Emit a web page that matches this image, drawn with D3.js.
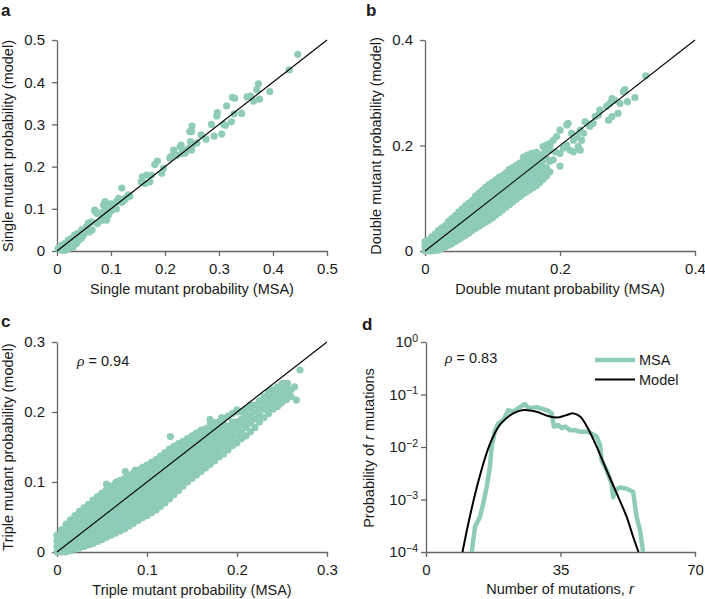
<!DOCTYPE html>
<html><head><meta charset="utf-8">
<script src="https://cdn.jsdelivr.net/npm/d3@7"></script>
<style>
body{margin:0;background:#fff}
svg{display:block}
text{font-family:"Liberation Sans",Arial,Helvetica,sans-serif;fill:#1a1a1a}
</style>
</head><body>
<svg id="fig" width="705" height="599"></svg>
<script>
// ---------------- DATA ----------------
// Panel a: single mutant probabilities [MSA, model]
const singlePoints = [
[0.4457,0.466],[0.430,0.429],[0.394,0.378],[0.373,0.396],[0.370,0.382],[0.359,0.367],[0.364,0.355],[0.375,0.360],[0.352,0.365],[0.342,0.326],
[0.325,0.364],[0.329,0.362],[0.314,0.344],[0.328,0.325],[0.296,0.320],[0.297,0.328],[0.323,0.306],[0.309,0.300],[0.312,0.298],[0.286,0.300],
[0.305,0.277],[0.291,0.272],[0.276,0.265],[0.267,0.275],[0.250,0.296],[0.249,0.283],[0.251,0.251],[0.249,0.239],[0.259,0.256],[0.246,0.283],
[0.230,0.251],[0.233,0.239],[0.222,0.227],[0.215,0.227],[0.237,0.232],[0.209,0.220],[0.186,0.213],[0.181,0.205],[0.197,0.196],[0.194,0.184],
[0.175,0.180],[0.166,0.180],[0.158,0.176],[0.156,0.164],[0.163,0.160],[0.172,0.164],[0.216,0.239],[0.228,0.247],[0.231,0.231],[0.238,0.235],
[0.244,0.243],[0.247,0.259],[0.210,0.223],[0.120,0.149],[0.126,0.125],[0.114,0.125],[0.132,0.133],[0.110,0.117],[0.104,0.109],[0.107,0.101],
[0.089,0.117],[0.086,0.109],[0.092,0.101],[0.070,0.097],[0.0735,0.089],[0.083,0.085],[0.089,0.081],[0.092,0.073],[0.083,0.073],[0.064,0.069],
[0.058,0.066],[0.055,0.058],[0.061,0.050],[0.046,0.050],[0.039,0.042],[0.033,0.038],[0.027,0.030],[0.021,0.026],[0.015,0.018],[0.009,0.014],
[0.002,0.006],[0.033,0.026],[0.039,0.030],[0.049,0.038],[0.027,0.018],[0.021,0.010],[0.015,0.006],[0.009,0.002],[0.036,0.018],[0.030,0.010],
[0.070,0.095],[0.080,0.090],[0.085,0.075],[0.075,0.065],[0.065,0.050],[0.060,0.045],[0.055,0.055],[0.050,0.040],[0.045,0.030],[0.040,0.025],
[0.035,0.020],[0.030,0.012],[0.025,0.010],[0.020,0.005],[0.015,0.002],[0.010,0.003],[0.005,0.008],[0.012,0.010],[0.100,0.095],[0.095,0.085],
[0.110,0.100],[0.120,0.115],[0.125,0.120],[0.130,0.128],[0.135,0.130],[0.100,0.112],[0.092,0.105],[0.088,0.095]
];

// Panel b: double mutant probabilities, dense part read column by column [MSA, [model values]]
const doubleColumns = [
[0.000,[0.000,0.009,0.018]],
[0.005,[0.000,0.010,0.020]],
[0.010,[0.000,0.009,0.018,0.027]],
[0.015,[0.001,0.011,0.021,0.032]],
[0.020,[0.002,0.012,0.022,0.031,0.039]],
[0.025,[0.005,0.015,0.025,0.035,0.044]],
[0.030,[0.008,0.018,0.028,0.038,0.048]],
[0.035,[0.011,0.021,0.031,0.041,0.050,0.056]],
[0.040,[0.014,0.024,0.034,0.044,0.054,0.062]],
[0.045,[0.018,0.027,0.037,0.047,0.057,0.067]],
[0.050,[0.022,0.030,0.040,0.050,0.060,0.070,0.074]],
[0.055,[0.026,0.034,0.044,0.054,0.064,0.074,0.080]],
[0.060,[0.030,0.038,0.048,0.058,0.068,0.078,0.086]],
[0.065,[0.034,0.042,0.052,0.062,0.072,0.082,0.091]],
[0.070,[0.039,0.046,0.056,0.066,0.076,0.086,0.096]],
[0.075,[0.043,0.050,0.060,0.070,0.080,0.090,0.100,0.104]],
[0.080,[0.047,0.054,0.064,0.074,0.084,0.094,0.104,0.110]],
[0.085,[0.051,0.058,0.068,0.078,0.088,0.098,0.108,0.115]],
[0.090,[0.055,0.062,0.072,0.082,0.092,0.102,0.112,0.121]],
[0.095,[0.059,0.066,0.076,0.086,0.096,0.106,0.116,0.126]],
[0.100,[0.063,0.070,0.080,0.090,0.100,0.110,0.120,0.130]],
[0.105,[0.068,0.075,0.085,0.095,0.105,0.115,0.125,0.135]],
[0.110,[0.073,0.080,0.090,0.100,0.110,0.120,0.130,0.140]],
[0.115,[0.078,0.085,0.095,0.105,0.115,0.125,0.135,0.143]],
[0.120,[0.083,0.090,0.100,0.110,0.120,0.130,0.140,0.148]],
[0.125,[0.088,0.096,0.106,0.116,0.126,0.136,0.146,0.155]],
[0.130,[0.093,0.100,0.110,0.120,0.130,0.140,0.150,0.158]],
[0.135,[0.098,0.105,0.115,0.125,0.135,0.145,0.155,0.162]],
[0.140,[0.103,0.110,0.120,0.130,0.140,0.150,0.160,0.166]],
[0.145,[0.108,0.114,0.124,0.134,0.144,0.154,0.164,0.170]],
[0.150,[0.112,0.118,0.128,0.138,0.148,0.158,0.168,0.174]],
[0.155,[0.116,0.122,0.132,0.142,0.152,0.162,0.172,0.178]],
[0.160,[0.120,0.127,0.137,0.147,0.157,0.167,0.176]],
[0.165,[0.124,0.132,0.142,0.152,0.162,0.172,0.180]],
[0.170,[0.130,0.140,0.150,0.160,0.170,0.180]],
[0.175,[0.136,0.148,0.160,0.172,0.184]],
[0.180,[0.142,0.158,0.175,0.190]],
[0.185,[0.150,0.170,0.190,0.200]]
];
// Panel b: sparse points at the upper end
const doubleSparse = [
[0.327,0.332],[0.311,0.291],[0.296,0.306],[0.294,0.302],[0.300,0.283],[0.289,0.280],[0.281,0.286],[0.277,0.289],[0.274,0.280],[0.269,0.274],
[0.286,0.261],[0.277,0.255],[0.272,0.248],[0.259,0.267],[0.257,0.258],[0.252,0.255],[0.249,0.242],[0.240,0.242],[0.237,0.245],[0.244,0.236],
[0.212,0.242],[0.210,0.239],[0.230,0.229],[0.235,0.223],[0.225,0.217],[0.232,0.210],[0.220,0.210],[0.227,0.198],[0.230,0.191],[0.220,0.188],
[0.215,0.191],[0.210,0.201],[0.217,0.223],[0.200,0.229],[0.195,0.217],[0.190,0.210],[0.185,0.204],[0.180,0.201],[0.175,0.198],[0.190,0.173],
[0.200,0.161],[0.173,0.154],[0.205,0.195],[0.200,0.185],[0.193,0.188],[0.146,0.178],[0.152,0.182],[0.158,0.185],[0.165,0.187]
];

// Panel c: triple mutant probabilities, dense part column by column [MSA, [model values]]
const tripleColumns = [
[0.000,[0.000,0.008,0.016,0.024]],
[0.005,[0.000,0.008,0.016,0.024,0.032]],
[0.010,[0.000,0.008,0.016,0.024,0.032,0.040]],
[0.015,[0.002,0.010,0.018,0.026,0.034,0.042,0.046]],
[0.020,[0.004,0.012,0.020,0.028,0.036,0.044,0.052]],
[0.025,[0.006,0.014,0.022,0.030,0.038,0.046,0.054,0.058]],
[0.030,[0.008,0.016,0.024,0.032,0.040,0.048,0.056,0.063]],
[0.035,[0.010,0.018,0.026,0.034,0.042,0.050,0.058,0.066,0.068]],
[0.040,[0.012,0.020,0.028,0.036,0.044,0.052,0.060,0.068,0.074]],
[0.045,[0.015,0.023,0.031,0.039,0.047,0.055,0.063,0.071,0.079]],
[0.050,[0.018,0.026,0.034,0.042,0.050,0.058,0.066,0.074,0.082,0.084]],
[0.055,[0.021,0.029,0.037,0.045,0.053,0.061,0.069,0.077,0.085,0.089]],
[0.060,[0.024,0.032,0.040,0.048,0.056,0.064,0.072,0.080,0.088,0.094]],
[0.065,[0.027,0.035,0.043,0.051,0.059,0.067,0.075,0.083,0.091,0.098]],
[0.070,[0.030,0.038,0.046,0.054,0.062,0.070,0.078,0.086,0.094,0.102]],
[0.075,[0.033,0.041,0.049,0.057,0.065,0.073,0.081,0.089,0.097,0.105]],
[0.080,[0.037,0.045,0.053,0.061,0.069,0.077,0.085,0.093,0.101,0.109]],
[0.085,[0.041,0.049,0.057,0.065,0.073,0.081,0.089,0.097,0.105,0.113]],
[0.090,[0.045,0.053,0.061,0.069,0.077,0.085,0.093,0.101,0.109,0.117]],
[0.095,[0.049,0.057,0.065,0.073,0.081,0.089,0.097,0.105,0.113,0.121]],
[0.100,[0.052,0.060,0.068,0.076,0.084,0.092,0.100,0.108,0.116,0.124]],
[0.105,[0.056,0.064,0.072,0.080,0.088,0.096,0.104,0.112,0.120,0.128]],
[0.110,[0.060,0.068,0.076,0.084,0.092,0.100,0.108,0.116,0.124,0.132]],
[0.115,[0.065,0.073,0.081,0.089,0.097,0.105,0.113,0.121,0.129,0.137]],
[0.120,[0.070,0.078,0.086,0.094,0.102,0.110,0.118,0.126,0.134,0.142]],
[0.125,[0.076,0.084,0.092,0.100,0.108,0.116,0.124,0.132,0.140,0.147]],
[0.130,[0.082,0.090,0.098,0.106,0.114,0.122,0.130,0.138,0.146,0.151]],
[0.135,[0.088,0.096,0.104,0.112,0.120,0.128,0.136,0.144,0.152,0.155]],
[0.140,[0.094,0.102,0.110,0.118,0.126,0.134,0.142,0.150,0.158]],
[0.145,[0.100,0.108,0.116,0.124,0.132,0.140,0.148,0.156,0.162]],
[0.150,[0.105,0.113,0.121,0.129,0.137,0.145,0.153,0.161,0.166]],
[0.155,[0.110,0.118,0.126,0.134,0.142,0.150,0.158,0.166,0.170]],
[0.160,[0.115,0.123,0.131,0.139,0.147,0.155,0.163,0.171,0.174]],
[0.165,[0.120,0.128,0.136,0.144,0.152,0.160,0.168,0.176]],
[0.170,[0.125,0.133,0.141,0.149,0.157,0.165,0.173,0.181]],
[0.175,[0.130,0.138,0.146,0.154,0.162,0.170,0.178,0.185]],
[0.180,[0.136,0.144,0.152,0.160,0.168,0.176,0.186]],
[0.185,[0.140,0.150,0.158,0.166,0.174,0.182,0.190]],
[0.190,[0.146,0.156,0.164,0.172,0.180,0.194]],
[0.195,[0.152,0.162,0.170,0.178,0.186,0.198]],
[0.200,[0.156,0.166,0.176,0.186,0.200]],
[0.205,[0.162,0.172,0.182,0.190,0.200]],
[0.210,[0.166,0.178,0.188,0.196,0.205]],
[0.215,[0.172,0.184,0.194,0.204,0.210]],
[0.220,[0.178,0.190,0.200,0.210]],
[0.225,[0.186,0.196,0.206,0.216]],
[0.230,[0.192,0.204,0.214,0.222]],
[0.235,[0.198,0.208,0.218,0.228]],
[0.240,[0.204,0.214,0.224,0.232]],
[0.245,[0.208,0.218,0.228,0.236]],
[0.250,[0.214,0.224,0.234,0.240]],
[0.255,[0.218,0.228,0.238]],
[0.260,[0.222,0.232]]
];
// Panel c: scattered outliers
const tripleSparse = [
[0.126,0.165],[0.055,0.097],[0.066,0.100],[0.076,0.115],[0.087,0.117],[0.096,0.110],[0.270,0.260],[0.264,0.236],[0.266,0.217],
[0.251,0.241],[0.248,0.212],[0.237,0.231],[0.200,0.203],[0.183,0.192],[0.170,0.189],[0.256,0.241],[0.252,0.222]
];

// Panel d: probability of r mutations
const rMSA = [11.9,12.75,14.05,14.9,15.8,16.65,17.1,17.95,18.8,20.1,21.4,22.7,24.0,25.8,26.6,28.8,30.5,31.8,32.7,33.3,34.4,35.3,36.2,37.5,38.8,40.1,42.2,44.4,45.3,45.7,47.0,48.3,48.7,49.2,50.5,52.2,53.9,54.8,55.7,56.5];
const pMSA = [1.0e-4,3.0e-4,4.7e-4,8.5e-4,1.74e-3,4.3e-3,0.0102,0.0209,0.0282,0.0324,0.0501,0.0468,0.055,0.066,0.055,0.0575,0.0525,0.049,0.0437,0.0245,0.0263,0.0229,0.0245,0.0209,0.0209,0.0195,0.0195,0.0158,0.011,0.0056,0.0036,0.002,0.0011,0.0015,0.0017,0.0016,0.0014,4.7e-4,2.6e-4,1.0e-4];
const rModel = [9.5,11.4,14.0,16.6,19.2,22.7,25.3,28.8,31.4,34.0,36.6,38.3,40.1,41.8,44.4,47.0,49.6,52.2,53.9,55.3];
const pModel = [1e-4,4.7e-4,2.8e-3,0.0112,0.0263,0.0437,0.0507,0.0468,0.0398,0.0363,0.0407,0.0437,0.038,0.0251,0.0102,0.0036,0.00132,4.7e-4,1.95e-4,1e-4];

// Tick values and labels
const ticksA = [0,0.1,0.2,0.3,0.4,0.5];
const labelsA = ["0","0.1","0.2","0.3","0.4","0.5"];
const ticksB = [0,0.2,0.4];
const labelsB = ["0","0.2","0.4"];
const ticksC = [0,0.1,0.2,0.3];
const labelsC = ["0","0.1","0.2","0.3"];
const ticksDx = [0,35,70];
const labelsDx = ["0","35","70"];
const ticksDy = [1,1e-1,1e-2,1e-3,1e-4];
const expDy = ["0","\u22121","\u22122","\u22123","\u22124"];

// ---------------- DRAWING ----------------
const TEAL = "#8ecbb9";
const AXIS = "#666666";
const svg = d3.select("#fig");

function styleAxis(g){
  g.select(".domain").attr("stroke",AXIS).attr("stroke-width",1.3);
  g.selectAll(".tick line").attr("stroke",AXIS).attr("stroke-width",1.3);
  g.selectAll(".tick text").attr("fill","#1a1a1a").style("font-size","15px").attr("font-family",null);
}

function axes(x, y, xt, xl, yt, yl, yPad){
  const [x0] = x.range(); const [y0] = y.range();
  const gx = svg.append("g").attr("transform",`translate(0,${y0})`)
    .call(d3.axisBottom(x).tickValues(xt).tickFormat((d,i)=>xl[i]).tickSize(5).tickSizeOuter(0).tickPadding(7));
  styleAxis(gx);
  const gy = svg.append("g").attr("transform",`translate(${x0},0)`)
    .call(d3.axisLeft(y).tickValues(yt).tickFormat((d,i)=>yl?yl[i]:"").tickSize(5).tickSizeOuter(0).tickPadding(yPad||7));
  styleAxis(gy);
  return gy;
}

function titles(xText, xc, xb, yText, yx, yc){
  svg.append("text").attr("x",xc).attr("y",xb).attr("text-anchor","middle").style("font-size","14.5px").text(xText);
  svg.append("text").attr("transform",`translate(${yx},${yc}) rotate(-90)`).attr("text-anchor","middle").style("font-size","14.5px").text(yText);
}

function letter(t, x, y){
  svg.append("text").attr("x",x).attr("y",y).style("font-size","17px").style("font-weight","bold").text(t);
}

function dots(pts, x, y){
  svg.append("g").selectAll("circle").data(pts).join("circle")
    .attr("cx",d=>x(d[0])).attr("cy",d=>y(d[1])).attr("r",3.6).attr("fill",TEAL);
}

function diag(x, y, m){
  svg.append("line").attr("x1",x(0)).attr("y1",y(0)).attr("x2",x(m)).attr("y2",y(m))
    .attr("stroke","#000").attr("stroke-width",1.1);
}

function rho(xp, yp, val){
  const t = svg.append("text").attr("x",xp).attr("y",yp).style("font-size","14.5px");
  t.append("tspan").style("font-family","'Liberation Serif','DejaVu Serif',serif").style("font-style","italic").style("font-size","15.5px").text("\u03C1");
  t.append("tspan").text(" = " + val);
}

const flat = cols => cols.flatMap(([cx, ys]) => ys.map(v => [cx, v]));

// Panel a
{
  const x = d3.scaleLinear([0,0.5],[57,327]);
  const y = d3.scaleLinear([0,0.5],[251,40]);
  axes(x,y,ticksA,labelsA,ticksA,labelsA);
  dots(singlePoints,x,y);
  diag(x,y,0.5);
  titles("Single mutant probability (MSA)",192,294,"Single mutant probability (model)",13,146);
  letter("a",1,16);
}
// Panel b
{
  const x = d3.scaleLinear([0,0.4],[425,695]);
  const y = d3.scaleLinear([0,0.4],[251,40]);
  axes(x,y,ticksB,labelsB,ticksB,labelsB);
  dots(flat(doubleColumns).concat(doubleSparse),x,y);
  diag(x,y,0.4);
  titles("Double mutant probability (MSA)",560,294,"Double mutant probability (model)",381,146);
  letter("b",366,16);
}
// Panel c
{
  const x = d3.scaleLinear([0,0.3],[57,327]);
  const y = d3.scaleLinear([0,0.3],[552,342]);
  axes(x,y,ticksC,labelsC,ticksC,labelsC);
  dots(flat(tripleColumns).concat(tripleSparse),x,y);
  diag(x,y,0.3);
  titles("Triple mutant probability (MSA)",192,595,"Triple mutant probability (model)",13,447);
  rho(77,366,"0.94");
  letter("c",1,327);
}
// Panel d
{
  const x = d3.scaleLinear([0,70],[426,695]);
  const y = d3.scaleLog([1e-4,1],[552,342]);
  const gy = axes(x,y,ticksDx,labelsDx,ticksDy,null,3);
  gy.selectAll(".tick text").each(function(d,i){
    const t = d3.select(this);
    t.text("");
    t.append("tspan").text("10");
    t.append("tspan").attr("dy","-0.55em").style("font-size","10.5px").text(expDy[i]);
  });
  svg.append("defs").append("clipPath").attr("id","clipD").append("rect")
    .attr("x",426).attr("y",342).attr("width",270).attr("height",210);
  const g = svg.append("g").attr("clip-path","url(#clipD)");
  const msa = rMSA.map((r,i)=>[r,pMSA[i]]);
  const mod = rModel.map((r,i)=>[r,pModel[i]]);
  g.append("path").datum(msa).attr("fill","none").attr("stroke",TEAL).attr("stroke-width",4.5).attr("stroke-linejoin","round")
    .attr("d",d3.line().x(d=>x(d[0])).y(d=>y(d[1])));
  g.append("path").datum(mod).attr("fill","none").attr("stroke","#000").attr("stroke-width",2)
    .attr("d",d3.line().curve(d3.curveCatmullRom).x(d=>x(d[0])).y(d=>y(d[1])));
  // legend
  svg.append("line").attr("x1",595).attr("x2",635).attr("y1",360).attr("y2",360).attr("stroke",TEAL).attr("stroke-width",4.5);
  svg.append("text").attr("x",639).attr("y",365).style("font-size","14.5px").text("MSA");
  svg.append("line").attr("x1",595).attr("x2",635).attr("y1",379.5).attr("y2",379.5).attr("stroke","#000").attr("stroke-width",2);
  svg.append("text").attr("x",639).attr("y",385).style("font-size","14.5px").text("Model");
  rho(445,363,"0.83");
  // titles with italic r
  const tx = svg.append("text").attr("x",560).attr("y",594).attr("text-anchor","middle").style("font-size","14.5px");
  tx.append("tspan").text("Number of mutations, ");
  tx.append("tspan").style("font-style","italic").text("r");
  const ty = svg.append("text").attr("transform","translate(374,448) rotate(-90)").attr("text-anchor","middle").style("font-size","14.5px");
  ty.append("tspan").text("Probability of ");
  ty.append("tspan").style("font-style","italic").text("r");
  ty.append("tspan").text(" mutations");
  letter("d",362,330);
}
</script>
</body></html>
